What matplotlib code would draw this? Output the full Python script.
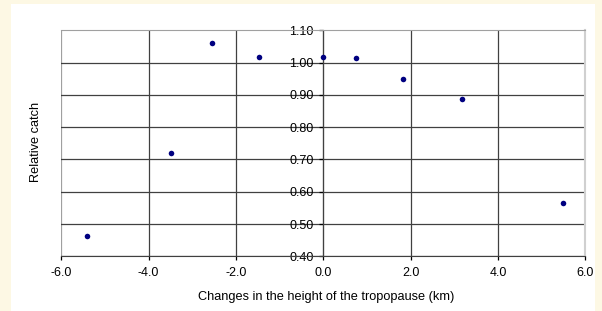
#!/usr/bin/env python3
# -*- coding: utf-8 -*-

import matplotlib
matplotlib.use('Agg')
import matplotlib.pyplot as plt
from matplotlib.patches import Rectangle

# data
height_change = [-5.41, -3.49, -2.55, -1.47, 0.0, 0.76, 1.83, 3.17, 5.48]
relative_catch = [0.463, 0.720, 1.061, 1.017, 1.017, 1.013, 0.948, 0.888, 0.566]

x_ticks = [-6.0, -4.0, -2.0, 0.0, 2.0, 4.0, 6.0]
y_ticks = [0.40, 0.50, 0.60, 0.70, 0.80, 0.90, 1.00, 1.10]

plt.rcParams['font.family'] = ['Liberation Sans', 'DejaVu Sans']

W, H = 602, 311
fig = plt.figure(figsize=(W / 100, H / 100), dpi=100)
fig.patch.set_facecolor('#fdf8e4')
# white inner panel
fig.patches.append(Rectangle((11 / W, 0), (595 - 11) / W, 1 - 4 / H,
                             transform=fig.transFigure, facecolor='white',
                             edgecolor='none', zorder=-5))

# axes box in pixels
left, right, top, bottom = 61.3, 585.3, 30.3, 256.3
ax = fig.add_axes([left / W, 1 - bottom / H, (right - left) / W, (bottom - top) / H])
ax.set_zorder(2)
ax.set_facecolor('white')

ax.scatter(height_change, relative_catch, s=16, color='#000080', zorder=5,
           linewidths=0)

ax.set_xlim(-6, 6)
ax.set_ylim(0.40, 1.10)
ax.set_xticks(x_ticks)
ax.set_xticklabels(['%.1f' % v for v in x_ticks])
ax.set_yticks(y_ticks)
ax.set_yticklabels(['%.2f' % v for v in y_ticks])

# y axis sits at x = 0
ax.spines['left'].set_position(('data', 0))
ax.spines['left'].set_color('#404040')
ax.spines['bottom'].set_color('#404040')
ax.spines['top'].set_color('#a0a0a0')
ax.spines['right'].set_color('#d0d0d0')
ax.spines['right'].set_linewidth(1.5)

ax.grid(True, color='#404040', linewidth=0.9, zorder=1)
ax.set_axisbelow(True)
xg = ax.xaxis.get_gridlines()
xg[0].set_color('#a0a0a0')
xg[-1].set_visible(False)
yg = ax.yaxis.get_gridlines()
yg[-1].set_visible(False)

ax.tick_params(axis='both', labelsize=9, colors='#000000', length=3,
               width=0.9)
ax.tick_params(axis='x', pad=4.6)
ax.tick_params(axis='y', pad=4.0)

fig.text(36 / W, 1 - 142 / H, 'Relative catch', rotation=90, fontsize=9.2,
         ha='center', va='center')
fig.text(326 / W, 1 - 297 / H, 'Changes in the height of the tropopause (km)',
         fontsize=9.2, ha='center', va='center')

fig.savefig('out.png', dpi=100, facecolor=fig.get_facecolor())
